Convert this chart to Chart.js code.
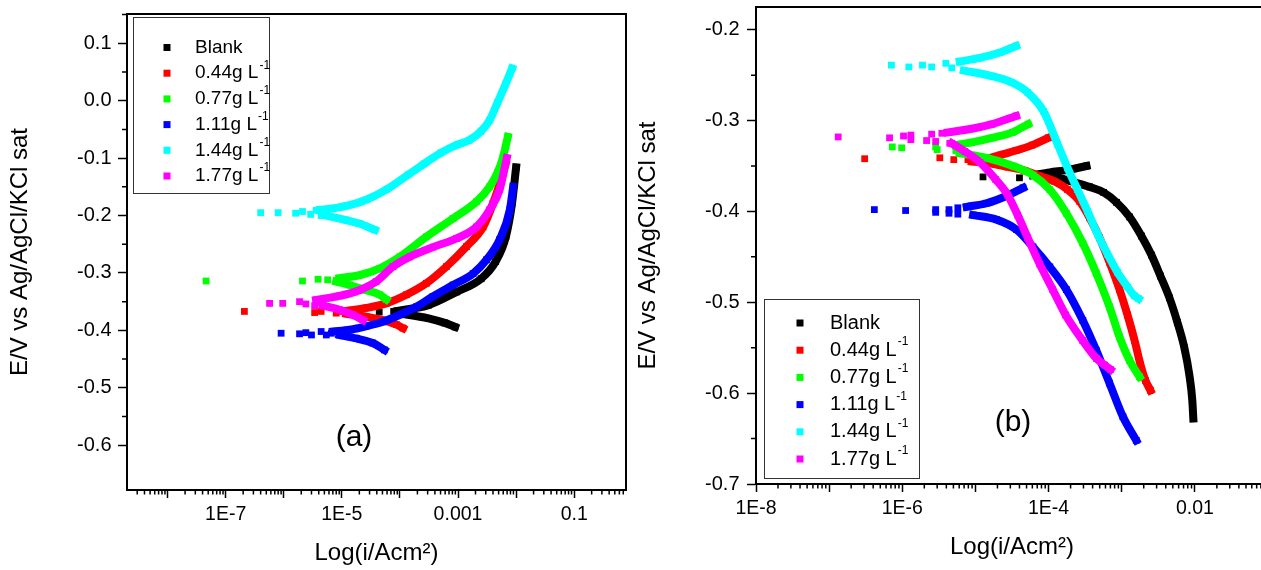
<!DOCTYPE html>
<html lang="en">
<head>
    <meta charset="UTF-8">
    <title>Tafel plots (a) and (b)</title>
    <script src="https://cdn.jsdelivr.net/npm/chart.js"></script>
    <style>
        body { margin: 0; background: #fff; overflow: hidden; }
        #wrap { position: relative; width: 1261px; height: 570px; overflow: hidden; }
        #chartA { position: absolute; left: 0; top: 0; }
        #chartB { position: absolute; left: 635px; top: 0; }
    </style>
</head>
<body>

<div id="wrap">
    <canvas id="chartA" width="635" height="570"></canvas>
    <canvas id="chartB" width="650" height="570"></canvas>
</div>

<script>
    // series names and colours (same order in both panels)
    const seriesLabels = ['Blank', '0.44g L⁻¹', '0.77g L⁻¹', '1.11g L⁻¹', '1.44g L⁻¹', '1.77g L⁻¹'];
    const seriesColors = ['#000000', '#ff0000', '#00ff00', '#0000ff', '#00ffff', '#ff00ff'];

    // axis ticks
    const xMajor = [1e-8, 1e-7, 1e-6, 1e-5, 1e-4, 1e-3, 1e-2, 1e-1];
    const xLabelsA = ['', '1E-7', '', '1E-5', '', '0.001', '', '0.1'];
    const xLabelsB = ['1E-8', '', '1E-6', '', '1E-4', '', '0.01', ''];
    const yMajorA = [-0.6, -0.5, -0.4, -0.3, -0.2, -0.1, 0.0, 0.1];
    const yMajorB = [-0.7, -0.6, -0.5, -0.4, -0.3, -0.2];

    // ---- panel (a): [i (A/cm2), E (V)] ----
    const aBlankDots = [[4.4e-5, -0.368], [7.8e-5, -0.367]];
    const aBlankAnodic = [[9.0e-5, -0.366], [3.1e-4, -0.356], [9.5e-4, -0.333], [2.5e-3, -0.310], [4.45e-3, -0.280], [6.7e-3, -0.236], [8.5e-3, -0.179], [1.0e-2, -0.116]];
    const aBlankCathodic = [[9.0e-5, -0.370], [3.1e-4, -0.379], [5.9e-4, -0.387], [8.9e-4, -0.394]];

    const a044Dots = [[2.1e-7, -0.367], [3.4e-6, -0.369], [4.4e-6, -0.367], [8.0e-6, -0.370], [9.8e-6, -0.367]];
    const a044Anodic = [[1.19e-5, -0.366], [2.6e-5, -0.361], [5.8e-5, -0.353], [1.29e-4, -0.338], [2.85e-4, -0.318], [6.3e-4, -0.289], [1.4e-3, -0.254], [2.7e-3, -0.220], [4.0e-3, -0.179], [5.6e-3, -0.135], [6.6e-3, -0.110]];
    const a044Cathodic = [[1.19e-5, -0.371], [2.6e-5, -0.376], [5.1e-5, -0.382], [8.7e-5, -0.390], [1.13e-4, -0.396]];

    const a077Dots = [[4.6e-8, -0.314], [2.1e-6, -0.314], [3.9e-6, -0.311], [5.7e-6, -0.312], [8.0e-6, -0.313]];
    const a077Anodic = [[9.1e-6, -0.309], [2.0e-5, -0.304], [4.5e-5, -0.292], [9.9e-5, -0.272], [2.85e-4, -0.237], [8.2e-4, -0.205], [2.07e-3, -0.176], [3.5e-3, -0.150], [4.8e-3, -0.125], [5.9e-3, -0.100], [7.2e-3, -0.063]];
    const a077Cathodic = [[8.0e-6, -0.315], [1.36e-5, -0.321], [2.6e-5, -0.330], [4.5e-5, -0.338], [5.8e-5, -0.346]];

    const a111Dots = [[9.0e-7, -0.405], [1.87e-6, -0.406], [2.4e-6, -0.404], [3.0e-6, -0.408], [4.4e-6, -0.402], [5.4e-6, -0.408], [6.6e-6, -0.405]];
    const a111Anodic = [[7.0e-6, -0.402], [1.36e-5, -0.399], [2.6e-5, -0.393], [5.1e-5, -0.385], [9.9e-5, -0.373], [1.92e-4, -0.359], [3.7e-4, -0.341], [8.2e-4, -0.321], [1.82e-3, -0.301], [3.1e-3, -0.277], [5.2e-3, -0.242], [7.8e-3, -0.190], [8.9e-3, -0.150]];
    const a111Cathodic = [[9.1e-6, -0.408], [1.77e-5, -0.414], [3.4e-5, -0.422], [5.4e-5, -0.434]];

    const a144Dots = [[4.0e-7, -0.195], [8.0e-7, -0.195], [1.6e-6, -0.196], [2.1e-6, -0.193], [2.9e-6, -0.198], [3.6e-6, -0.191], [4.4e-6, -0.200]];
    const a144Anodic = [[4.2e-6, -0.190], [5.4e-6, -0.189], [1.2e-5, -0.183], [2.7e-5, -0.172], [6.0e-5, -0.154], [1.38e-4, -0.129], [2.6e-4, -0.110], [5.0e-4, -0.091], [9.5e-4, -0.077], [1.55e-3, -0.069], [2.5e-3, -0.053], [3.5e-3, -0.034], [4.8e-3, -0.003], [6.6e-3, 0.029], [8.5e-3, 0.056]];
    const a144Cathodic = [[5.4e-6, -0.200], [1.2e-5, -0.208], [2.0e-5, -0.214], [3.7e-5, -0.225]];

    const a177Dots = [[5.7e-7, -0.353], [9.6e-7, -0.353], [1.87e-6, -0.350], [2.4e-6, -0.354], [3.4e-6, -0.357], [3.85e-6, -0.352]];
    const a177Anodic = [[3.6e-6, -0.347], [9.1e-6, -0.340], [2.0e-5, -0.330], [3.9e-5, -0.315], [7.6e-5, -0.289], [1.47e-4, -0.272], [3.7e-4, -0.255], [9.4e-4, -0.240], [2.07e-3, -0.220], [3.5e-3, -0.190], [5.2e-3, -0.155], [6.9e-3, -0.100]];
    const a177Cathodic = [[4.7e-6, -0.357], [9.1e-6, -0.364], [1.55e-5, -0.373], [2.3e-5, -0.382]];

    // ---- panel (b) ----
    const bBlankDots = [[1.27e-5, -0.362], [4.0e-5, -0.363]];
    const bBlankAnodic = [[6.1e-5, -0.360], [1.04e-4, -0.357], [1.94e-4, -0.354], [3.3e-4, -0.350]];
    const bBlankCathodic = [[1.04e-4, -0.362], [1.51e-4, -0.364], [2.27e-4, -0.368], [3.64e-4, -0.373], [5.65e-4, -0.379], [8.49e-4, -0.390], [1.28e-3, -0.406], [1.86e-3, -0.427], [2.55e-3, -0.448], [3.38e-3, -0.471], [4.49e-3, -0.495], [5.77e-3, -0.522], [7.18e-3, -0.550], [8.41e-3, -0.580], [9.23e-3, -0.608], [9.53e-3, -0.628]];

    const b044Dots = [[3.06e-7, -0.342], [3.26e-6, -0.341], [5.06e-6, -0.343], [7.9e-6, -0.343], [8.9e-6, -0.345]];
    const b044Anodic = [[1.31e-5, -0.343], [2.17e-5, -0.338], [3.6e-5, -0.333], [5.96e-5, -0.327], [9.9e-5, -0.319]];
    const b044Cathodic = [[8.9e-6, -0.345], [1.57e-5, -0.347], [2.77e-5, -0.351], [4.72e-5, -0.355], [7.57e-5, -0.361], [1.21e-4, -0.367], [1.82e-4, -0.376], [2.66e-4, -0.389], [3.64e-4, -0.407], [4.98e-4, -0.429], [6.82e-4, -0.456], [9.33e-4, -0.486], [1.2e-3, -0.514], [1.5e-3, -0.542], [1.81e-3, -0.569], [2.11e-3, -0.586], [2.47e-3, -0.597]];

    const b077Dots = [[7.3e-7, -0.329], [9.8e-7, -0.330], [2.86e-6, -0.329], [3.0e-6, -0.332], [5.4e-6, -0.333]];
    const b077Anodic = [[5.4e-6, -0.327], [8.9e-6, -0.324], [1.69e-5, -0.319], [3.2e-5, -0.313], [5.25e-5, -0.304]];
    const b077Cathodic = [[6.12e-6, -0.336], [1.42e-5, -0.341], [3.27e-5, -0.350], [6.12e-5, -0.360], [1.04e-4, -0.376], [1.75e-4, -0.402], [2.94e-4, -0.435], [4.49e-4, -0.468], [6.81e-4, -0.505], [9.33e-4, -0.538], [1.28e-3, -0.564], [1.75e-3, -0.582]];

    const b111Dots = [[4.15e-7, -0.398], [1.11e-6, -0.399], [2.86e-6, -0.398], [2.86e-6, -0.401], [4.35e-6, -0.398], [4.35e-6, -0.402], [5.75e-6, -0.396], [5.75e-6, -0.403]];
    const b111Anodic = [[7.6e-6, -0.395], [1.42e-5, -0.391], [2.65e-5, -0.383], [4.48e-5, -0.374]];
    const b111Cathodic = [[9.3e-6, -0.404], [1.94e-5, -0.409], [3.64e-5, -0.420], [6.12e-5, -0.439], [1.04e-4, -0.461], [1.75e-4, -0.486], [2.94e-4, -0.520], [4.49e-4, -0.553], [6.81e-4, -0.589], [1.04e-3, -0.626], [1.58e-3, -0.652]];

    const b144Dots = [[7.1e-7, -0.239], [1.23e-6, -0.241], [1.89e-6, -0.239], [2.52e-6, -0.241], [3.94e-6, -0.237], [4.75e-6, -0.242]];
    const b144Anodic = [[6.1e-6, -0.235], [1.15e-5, -0.231], [2.17e-5, -0.225], [3.59e-5, -0.218]];
    const b144Cathodic = [[6.95e-6, -0.245], [1.67e-5, -0.251], [3.14e-5, -0.258], [5.19e-5, -0.269], [8.57e-5, -0.290], [1.33e-4, -0.326], [1.82e-4, -0.352], [2.49e-4, -0.376], [3.42e-4, -0.400], [4.68e-4, -0.425], [6.41e-4, -0.447], [8.77e-4, -0.467], [1.2e-3, -0.483], [1.5e-3, -0.493], [1.7e-3, -0.496]];

    const b177Dots = [[1.33e-7, -0.318], [6.7e-7, -0.319], [1.04e-6, -0.317], [1.31e-6, -0.316], [1.31e-6, -0.321], [2.15e-6, -0.322], [2.52e-6, -0.315], [2.86e-6, -0.323], [3.47e-6, -0.314], [4.46e-6, -0.325]];
    const b177Anodic = [[4.19e-6, -0.313], [8.9e-6, -0.309], [1.69e-5, -0.304], [3.59e-5, -0.295]];
    const b177Cathodic = [[4.76e-6, -0.325], [7.18e-6, -0.334], [1.15e-5, -0.346], [1.9e-5, -0.365], [2.77e-5, -0.382], [3.78e-5, -0.404], [5.19e-5, -0.429], [7.57e-5, -0.458], [1.14e-4, -0.486], [1.71e-4, -0.514], [2.92e-4, -0.542], [4.53e-4, -0.562], [5.82e-4, -0.569], [7.03e-4, -0.574]];

    const panelA = [
        [aBlankDots, aBlankAnodic, aBlankCathodic],
        [a044Dots, a044Anodic, a044Cathodic],
        [a077Dots, a077Anodic, a077Cathodic],
        [a111Dots, a111Anodic, a111Cathodic],
        [a144Dots, a144Anodic, a144Cathodic],
        [a177Dots, a177Anodic, a177Cathodic]
    ];
    const panelB = [
        [bBlankDots, bBlankAnodic, bBlankCathodic],
        [b044Dots, b044Anodic, b044Cathodic],
        [b077Dots, b077Anodic, b077Cathodic],
        [b111Dots, b111Anodic, b111Cathodic],
        [b144Dots, b144Anodic, b144Cathodic],
        [b177Dots, b177Anodic, b177Cathodic]
    ];

    const FONT = '"Liberation Sans", Arial, sans-serif';

    // every series = loose points near Ecorr + two dense branches
    function buildDatasets(panel) {
        const sets = [];
        panel.forEach((parts, k) => {
            parts.forEach((pts, j) => {
                sets.push({
                    label: seriesLabels[k],
                    data: pts.map(p => ({x: p[0], y: p[1]})),
                    showLine: j > 0,
                    cubicInterpolationMode: 'monotone',
                    borderWidth: 8,
                    borderColor: seriesColors[k],
                    backgroundColor: seriesColors[k],
                    borderJoinStyle: 'round',
                    borderCapStyle: 'square',
                    pointStyle: 'rect',
                    pointRadius: 4.8,
                    pointBorderWidth: 0,
                    order: 10 - k   // later series on top, like Origin
                });
            });
        });
        return sets;
    }

    // frame, minor ticks, legend box and panel tag
    const decor = {
        id: 'decor',
        afterDraw(chart, args, o) {
            const {ctx, chartArea: a, scales: {x, y}} = chart;
            ctx.save();
            ctx.strokeStyle = '#000';
            ctx.lineWidth = 2;
            ctx.beginPath();
            ctx.moveTo(a.left, a.top);
            ctx.lineTo(a.right, a.top);
            ctx.lineTo(a.right, a.bottom);
            ctx.stroke();

            ctx.lineWidth = 1.5;
            ctx.beginPath();
            for (let e = -10; e < 1; e++) {
                for (let m = 2; m < 10; m++) {
                    const v = m * Math.pow(10, e);
                    if (v <= x.min || v >= x.max) continue;
                    const px = x.getPixelForValue(v);
                    ctx.moveTo(px, a.bottom);
                    ctx.lineTo(px, a.bottom + 4.5);
                }
            }
            o.yMajor.forEach(v => {
                const m = v + 0.05;
                if (m >= y.max || m <= y.min) return;
                const py = y.getPixelForValue(m);
                ctx.moveTo(a.left, py);
                ctx.lineTo(a.left - 5, py);
            });
            ctx.stroke();

            // legend
            const L = o.legend;
            ctx.fillStyle = '#fff';
            ctx.fillRect(L.left, L.top, L.width, L.height);
            ctx.strokeStyle = '#333';
            ctx.lineWidth = 1;
            ctx.strokeRect(L.left + 0.5, L.top + 0.5, L.width, L.height);
            ctx.textBaseline = 'middle';
            ctx.textAlign = 'left';
            seriesLabels.forEach((label, k) => {
                const ry = L.firstRow + k * L.rowGap;
                ctx.fillStyle = seriesColors[k];
                ctx.fillRect(L.markerX - 3.5, ry - 3.5, 7, 7);
                ctx.fillStyle = '#000';
                ctx.font = L.fontSize + 'px ' + FONT;
                const base = label.replace('⁻¹', '');
                ctx.fillText(base, L.textX, ry);
                if (base !== label) {
                    const w = ctx.measureText(base).width;
                    ctx.font = Math.round(L.fontSize * 0.62) + 'px ' + FONT;
                    ctx.fillText('-1', L.textX + w + 1, ry - L.fontSize * 0.42);
                }
            });

            ctx.font = '30px ' + FONT;
            ctx.textAlign = 'center';
            ctx.fillStyle = '#000';
            ctx.fillText(o.tag.text, o.tag.x, o.tag.y);
            ctx.restore();
        }
    };

    function makeChart(id, panel, cfg) {
        return new Chart(document.getElementById(id), {
            type: 'scatter',
            data: {datasets: buildDatasets(panel)},
            plugins: [decor],
            options: {
                responsive: false,
                animation: false,
                devicePixelRatio: 1,
                layout: {padding: cfg.padding},
                plugins: {
                    legend: {display: false},
                    tooltip: {enabled: false},
                    decor: {yMajor: cfg.yMajor, legend: cfg.legend, tag: cfg.tag}
                },
                scales: {
                    x: {
                        type: 'logarithmic',
                        min: cfg.xMin,
                        max: cfg.xMax,
                        afterBuildTicks: ax => { ax.ticks = xMajor.map(v => ({value: v})); },
                        afterFit: ax => { ax.height = cfg.xHeight; ax.paddingLeft = 0; ax.paddingRight = 0; },
                        ticks: {
                            autoSkip: false, maxRotation: 0, minRotation: 0,
                            padding: cfg.xTickPad, color: '#000',
                            font: {family: FONT, size: 19.5, lineHeight: 1},
                            callback: (v, i) => cfg.xLabels[i]
                        },
                        grid: {drawOnChartArea: false, tickLength: 8, tickWidth: 1.5, tickColor: '#000'},
                        border: {color: '#000', width: 2},
                        title: {
                            display: true, text: 'Log(i/Acm²)', color: '#000',
                            font: {family: FONT, size: 24, lineHeight: 1},
                            padding: {top: 0, bottom: cfg.xTitlePad}
                        }
                    },
                    y: {
                        type: 'linear',
                        min: cfg.yMin,
                        max: cfg.yMax,
                        afterBuildTicks: ax => { ax.ticks = cfg.yMajor.map(v => ({value: v})); },
                        afterFit: ax => { ax.width = cfg.yWidth; ax.paddingTop = 0; ax.paddingBottom = 0; },
                        ticks: {
                            padding: cfg.yTickPad, color: '#000',
                            font: {family: FONT, size: 20, lineHeight: 1},
                            callback: v => v.toFixed(1)
                        },
                        grid: {drawOnChartArea: false, tickLength: 9, tickWidth: 1.5, tickColor: '#000'},
                        border: {color: '#000', width: 2},
                        title: {
                            display: true, text: 'E/V vs Ag/AgCl/KCl sat', color: '#000',
                            font: {family: FONT, size: 24, lineHeight: 1},
                            padding: {top: cfg.yTitlePad, bottom: 0}
                        }
                    }
                }
            }
        });
    }

    makeChart('chartA', panelA, {
        xMin: 2e-9, xMax: 0.78, yMin: -0.678, yMax: 0.151,
        xLabels: xLabelsA, yMajor: yMajorA,
        padding: {left: 0, right: 9, top: 14, bottom: 0},
        xHeight: 80, yWidth: 127,
        xTickPad: 7, yTickPad: 6.5, xTitlePad: 4.3, yTitlePad: 8.2,
        legend: {left: 133, top: 17, width: 136, height: 176, firstRow: 47.5, rowGap: 25.7, markerX: 167, textX: 195, fontSize: 19},
        tag: {text: '(a)', x: 354, y: 438}
    });

    makeChart('chartB', panelB, {
        xMin: 1e-8, xMax: 0.1, yMin: -0.7, yMax: -0.175,
        xLabels: xLabelsB, yMajor: yMajorB,
        padding: {left: 0, right: 17, top: 7, bottom: 0},
        xHeight: 86, yWidth: 121,
        xTickPad: 6.4, yTickPad: 7.5, xTitlePad: 10.3, yTitlePad: 1.7,
        legend: {left: 129, top: 299, width: 155, height: 179, firstRow: 323, rowGap: 27.2, markerX: 165, textX: 195, fontSize: 20},
        tag: {text: '(b)', x: 378, y: 423}
    });
</script>

</body>
</html>
